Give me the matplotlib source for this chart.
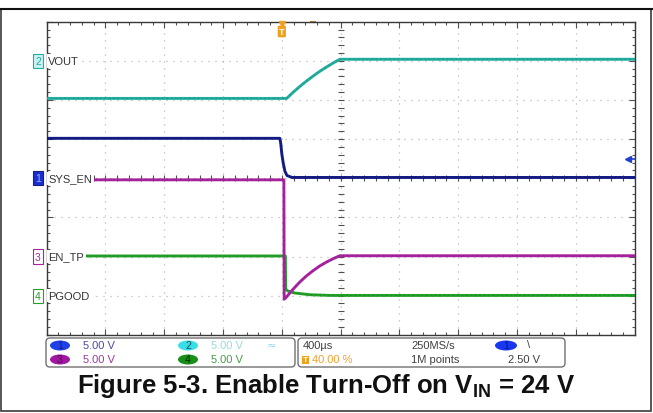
import numpy as np
import matplotlib.pyplot as plt
from matplotlib.patches import FancyBboxPatch, Ellipse, Rectangle
from matplotlib.ticker import MultipleLocator
import matplotlib.transforms as mtransforms

plt.rcParams['font.family'] = ['Liberation Sans', 'DejaVu Sans']
plt.rcParams['mathtext.fontset'] = 'custom'
plt.rcParams['mathtext.rm'] = 'Liberation Sans:bold'

# scope setup: 400 us/div, 10 div, trigger at 40 %, 5 V/div on every channel
t_div = 400
t_min, t_max = -1600, 2400
v_div = 5.0
trig_level = 2.5

# captured traces (time in us, level in V)
ch1_t = [-1600, -13, -7, 0, 10, 21, 35, 69, 2400]
ch1_v = [5.1, 5.1, 4.4, 3.1, 1.9, 0.9, 0.35, 0.1, 0.1]
ch2_t = [-1600, 33, 78, 124, 169, 214, 259, 305, 350, 395, 2400]
ch2_v = [-4.8, -4.8, -4.0, -3.25, -2.57, -1.93, -1.33, -0.78, -0.27, 0.2, 0.2]
ch3_t = [-1600, 14, 16, 28, 74, 120, 166, 212, 257, 303, 349, 395, 2400]
ch3_v = [9.8, 9.8, -5.45, -5.25, -4.23, -3.3, -2.5, -1.82, -1.22, -0.72, -0.28, 0.1, 0.1]
ch4_t = [-1600, 24, 26, 40, 85, 190, 330, 2400]
ch4_v = [5.07, 5.07, 0.85, 0.6, 0.35, 0.12, 0.03, 0.03]

names = ['SYS_EN', 'VOUT', 'EN_TP', 'PGOOD']
offsets = [0, 3, -2, -3]          # ground marker position, div
colors = ['#141c86', '#22ad9f', '#a8249f', '#22a02a']
speckle = ['#0a0f50', '#0f6f66', '#6a1065', '#11661a']

fig = plt.figure(figsize=(6.53, 4.14), dpi=100)

# page layer in pixel units: frame, readout panel, caption
ov = fig.add_axes([0, 0, 1, 1])
ov.set_xlim(0, 653)
ov.set_ylim(414, 0)
ov.axis('off')
ov.add_patch(Rectangle((1, 10), 650, 402, fill=False, ec='#3a3a3a', lw=1.2))
ov.plot([0, 653], [10, 10], color='#111111', lw=1.5)

ax = fig.add_axes([46.7 / 653, 1 - 335.8 / 414, 587.8 / 653, 313.1 / 414])
ax.set_xlim(t_min, t_max)
ax.set_ylim(-4, 4)
ax.set_xticks(np.arange(t_min, t_max + 1, t_div))
ax.set_yticks(np.arange(-4, 5, 1))
ax.xaxis.set_minor_locator(MultipleLocator(t_div / 5))
ax.yaxis.set_minor_locator(MultipleLocator(0.2))
ax.tick_params(which='both', direction='in', top=True, right=True,
               labelbottom=False, labelleft=False, color='#505050', width=0.8)
ax.tick_params(which='major', length=4)
ax.tick_params(which='minor', length=2.5)
ax.grid(which='major', color='#a8a8a8', linestyle=(0, (0.8, 4.8)), lw=0.9)
for s in ax.spines.values():
    s.set_color('#383838')
    s.set_linewidth(1)

# ticks along the centre cross
cx = t_min + 5 * t_div
yt = np.arange(-4, 4.01, 0.2)
xt = np.arange(t_min, t_max + 1, t_div / 5)
ax.plot(np.full(yt.size, cx), yt, ls='none', marker='_', ms=5, mew=0.8, color='#505050')
ax.plot(xt, np.zeros(xt.size), ls='none', marker='|', ms=5, mew=0.8, color='#505050')

traces = [(ch1_t, ch1_v), (ch2_t, ch2_v), (ch3_t, ch3_v), (ch4_t, ch4_v)]
zs = [4, 4, 3, 2]
for (t, v), off, c, dc, z in zip(traces, offsets, colors, speckle, zs):
    y = off + np.asarray(v) / v_div
    ax.plot(t, y, color=c, lw=2.1, zorder=z, solid_joinstyle='round')
    ax.plot(t, y, color=dc, lw=0.8, zorder=z, alpha=0.45, ls=(0, (1, 3)))

# channel names and ground markers
blend = mtransforms.blended_transform_factory(ax.transAxes, ax.transData)
badge_fc = ['#1a2fd0', '#c8f2f2', 'white', 'white']
badge_tc = ['#9fb0ff', '#22ad9f', '#a8249f', '#22a02a']
for i, (name, off, c) in enumerate(zip(names, offsets, colors)):
    ax.text(t_min + 10, off, name, va='center', ha='left', fontsize=8,
            color='#333333', zorder=6,
            bbox=dict(boxstyle='square,pad=0.15', fc='white', ec='none'))
    ax.text(-0.015, off, str(i + 1), transform=blend, va='center', ha='center',
            fontsize=7.5, color=badge_tc[i], clip_on=False, zorder=6,
            bbox=dict(boxstyle='square,pad=0.2', fc=badge_fc[i], ec=c, lw=0.8))

# trigger position and level markers
ax.plot(0, 3.93, marker='v', ms=4, color='#f0a020', clip_on=False, zorder=7)
ax.text(0, 3.75, 'T', ha='center', va='center', fontsize=6.5, color='white',
        weight='bold', zorder=7,
        bbox=dict(boxstyle='round,pad=0.15', fc='#f0a020', ec='none'))
ax.plot(211, 4.0, marker='_', ms=4, mew=1.5, color='#c08030', clip_on=False)
lvl = trig_level / v_div
ax.plot([t_max - 45, t_max], [lvl, lvl], color='#2040d0', lw=1.2)
ax.plot(t_max - 45, lvl, marker='<', ms=4.5, color='#2040d0')

# readout panel
ov.add_patch(FancyBboxPatch((46, 339), 249, 29, boxstyle='round,pad=0,rounding_size=4',
                            ec='#707070', fc='white', lw=1))
ov.add_patch(FancyBboxPatch((298, 339), 267, 29, boxstyle='round,pad=0,rounding_size=4',
                            ec='#707070', fc='white', lw=1))

scale_txt = ['5.00 V', '5.00 V', '5.00 V', '5.00 V']
pill_fc = ['#2040e8', '#38dfe6', '#a018a0', '#189018']
pill_tc = ['#102080', '#105060', '#500050', '#063006']
val_c = ['#4a4aa8', '#9fd8dc', '#9a3a9a', '#4a9a4a']
pos = [(60, 346.5), (188, 346.5), (60, 360.5), (188, 360.5)]
for i in range(4):
    x, y = pos[i]
    ov.add_patch(Ellipse((x, y), 20, 10, fc=pill_fc[i], ec='none'))
    ov.text(x, y, str(i + 1), ha='center', va='center', fontsize=7.5, color=pill_tc[i])
    ov.text(x + 23, y, scale_txt[i], ha='left', va='center', fontsize=8, color=val_c[i])
ov.text(271, 345.5, '≈', ha='center', va='center', fontsize=8, color='#8fd6e0',
        family='DejaVu Sans')

ov.text(303, 346.5, '400µs', ha='left', va='center', fontsize=8, color='#404040')
ov.add_patch(Rectangle((302, 356.5), 7, 8.5, fc='#f0a020', ec='none'))
ov.text(305.5, 360.7, 'T', ha='center', va='center', fontsize=6, color='white', weight='bold')
ov.text(312, 360.5, '40.00 %', ha='left', va='center', fontsize=8, color='#f0a030')
ov.text(411, 346.5, '250MS/s', ha='left', va='center', fontsize=8, color='#404040')
ov.text(411, 360.5, '1M points', ha='left', va='center', fontsize=8, color='#404040')
ov.add_patch(Ellipse((506, 346.5), 22, 10, fc='#1838f0', ec='none'))
ov.text(506, 346.5, '1', ha='center', va='center', fontsize=7.5, color='#0a1880')
ov.text(529, 345, '\\', ha='center', va='center', fontsize=8, color='#404040')
ov.text(540, 360.5, '%.2f V' % trig_level, ha='right', va='center', fontsize=8,
        color='#404040')

ov.text(326, 393, r'Figure 5-3. Enable Turn-Off on V$_{\mathrm{IN}}$ = 24 V',
        ha='center', va='baseline', fontsize=18.5, weight='bold',
        family='Liberation Sans', color='#111111')

fig.savefig('out.png', dpi=100)
